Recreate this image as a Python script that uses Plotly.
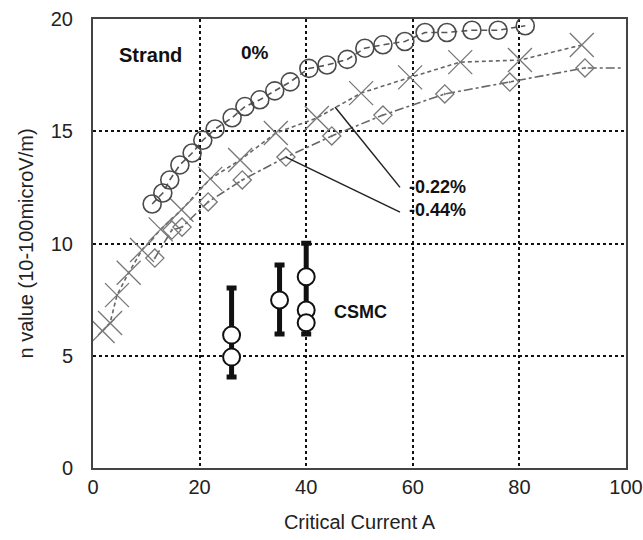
import plotly.graph_objects as go

# Strand n-value vs critical current, at three strain levels
strand_0_x = [11.1, 13.1, 14.4, 16.3, 18.6, 20.6, 22.9, 26.1, 28.5, 31.3, 34.1, 37.0,
              40.5, 43.9, 47.7, 51.0, 54.4, 58.5, 62.3, 66.4, 71.1, 76.0, 81.1]
strand_0_y = [11.76, 12.25, 12.83, 13.5, 14.03, 14.6, 15.1, 15.6, 16.1, 16.4, 16.8, 17.2,
              17.8, 17.95, 18.2, 18.7, 18.85, 19.0, 19.4, 19.4, 19.5, 19.5, 19.7]

strand_022_x = [1.8, 3.2, 4.5, 6.7, 9.2, 12.7, 16.6, 22.0, 27.6, 34.3, 42.0, 50.3,
                59.5, 68.9, 80.1, 91.7]
strand_022_y = [6.1, 6.46, 7.7, 8.7, 9.71, 10.63, 11.5, 12.88, 13.72, 14.92, 15.59, 16.7,
                17.4, 18.08, 18.17, 18.84]

strand_044_x = [11.6, 14.8, 16.7, 21.6, 28.0, 36.2, 44.8, 54.4, 66.0, 78.2, 92.3]
strand_044_y = [9.35, 10.6, 10.73, 11.85, 12.83, 13.85, 14.79, 15.72, 16.66, 17.19, 17.82]
strand_044_tail_x = 99.0

# CSMC measurements and their spread
csmc_x = [26, 26, 35, 40, 40, 40]
csmc_y = [5.92, 4.94, 7.48, 8.52, 7.04, 6.47]
csmc_range_x = [26, 35, 40]
csmc_low = [4.05, 5.97, 5.97]
csmc_high = [8.02, 9.04, 10.01]

# Leader lines from the curves to their strain labels
lead_022_x = [45.4, 57.6]
lead_022_y = [16.08, 12.5]
lead_044_x = [36.2, 57.6]
lead_044_y = [13.85, 11.4]

x_ticks = [0, 20, 40, 60, 80, 100]
y_ticks = [0, 5, 10, 15, 20]

FONT = "Liberation Sans, Arial, sans-serif"

fig = go.Figure()

fig.add_trace(go.Scatter(
    x=strand_044_x + [strand_044_tail_x], y=strand_044_y + [strand_044_y[-1]],
    mode="lines", line=dict(color="#666", width=1.6, dash="dashdot"),
    hoverinfo="skip", showlegend=False))
fig.add_trace(go.Scatter(
    x=strand_044_x, y=strand_044_y, mode="markers",
    marker=dict(symbol="diamond-open-dot", size=14, color="#777",
                line=dict(color="#777", width=1.3)),
    showlegend=False))

fig.add_trace(go.Scatter(
    x=strand_022_x, y=strand_022_y, mode="lines+markers",
    line=dict(color="#666", width=1.6, dash="4px,3px"),
    marker=dict(symbol="x-thin-open", size=24, color="#777",
                line=dict(color="#777", width=1.3)),
    showlegend=False))

fig.add_trace(go.Scatter(
    x=strand_0_x, y=strand_0_y, mode="lines+markers",
    line=dict(color="#555", width=1.6, dash="6px,4px"),
    marker=dict(symbol="circle-open", size=18, color="#4a4a4a",
                line=dict(color="#4a4a4a", width=1.6)),
    showlegend=False))

for lx, ly in ((lead_022_x, lead_022_y), (lead_044_x, lead_044_y)):
    fig.add_trace(go.Scatter(x=lx, y=ly, mode="lines",
                             line=dict(color="#222", width=1.5),
                             hoverinfo="skip", showlegend=False))

# CSMC spread bars, centred on each range
mid = [(lo + hi) / 2 for lo, hi in zip(csmc_low, csmc_high)]
half = [(hi - lo) / 2 for lo, hi in zip(csmc_low, csmc_high)]
fig.add_trace(go.Scatter(
    x=csmc_range_x, y=mid, mode="markers",
    marker=dict(size=1, color="rgba(0,0,0,0)"),
    error_y=dict(type="data", array=half, visible=True,
                 color="#111", thickness=5, width=5),
    hoverinfo="skip", showlegend=False))
fig.add_trace(go.Scatter(
    x=csmc_x, y=csmc_y, mode="markers",
    marker=dict(symbol="circle", size=17, color="white",
                line=dict(color="#111", width=2)),
    showlegend=False))

labels = [
    ("Strand", 10.7, 18.4, 20, "center"),
    ("0%", 30.4, 18.53, 19, "center"),
    ("-0.22%", 59.0, 12.52, 18, "left"),
    ("-0.44%", 59.0, 11.5, 18, "left"),
    ("CSMC", 44.8, 6.95, 18, "left"),
]
for text, x, y, size, anchor in labels:
    fig.add_annotation(x=x, y=y, text=f"<b>{text}</b>", showarrow=False,
                       xanchor=anchor, yanchor="middle",
                       font=dict(family=FONT, size=size, color="#111"))

axis_common = dict(
    showline=True, linecolor="#444", linewidth=2, mirror=True,
    showgrid=True, gridcolor="#111", gridwidth=2, griddash="dot",
    zeroline=False, ticks="", automargin=False,
    tickfont=dict(family=FONT, size=20, color="#222"),
)

fig.update_xaxes(range=[0, 100], tickvals=x_ticks,
                 title=dict(text="Critical Current A", standoff=18,
                            font=dict(family=FONT, size=20, color="#222")),
                 **axis_common)
fig.update_yaxes(range=[0, 20], tickvals=y_ticks, ticklabelstandoff=14,
                 title=dict(text="n value (10-100microV/m)", standoff=12,
                            font=dict(family=FONT, size=20, color="#222")),
                 **axis_common)

fig.update_layout(
    width=643, height=540,
    margin=dict(l=93, r=17, t=19, b=72),
    paper_bgcolor="white", plot_bgcolor="white",
    font=dict(family=FONT),
)

fig.write_html("out.html")
